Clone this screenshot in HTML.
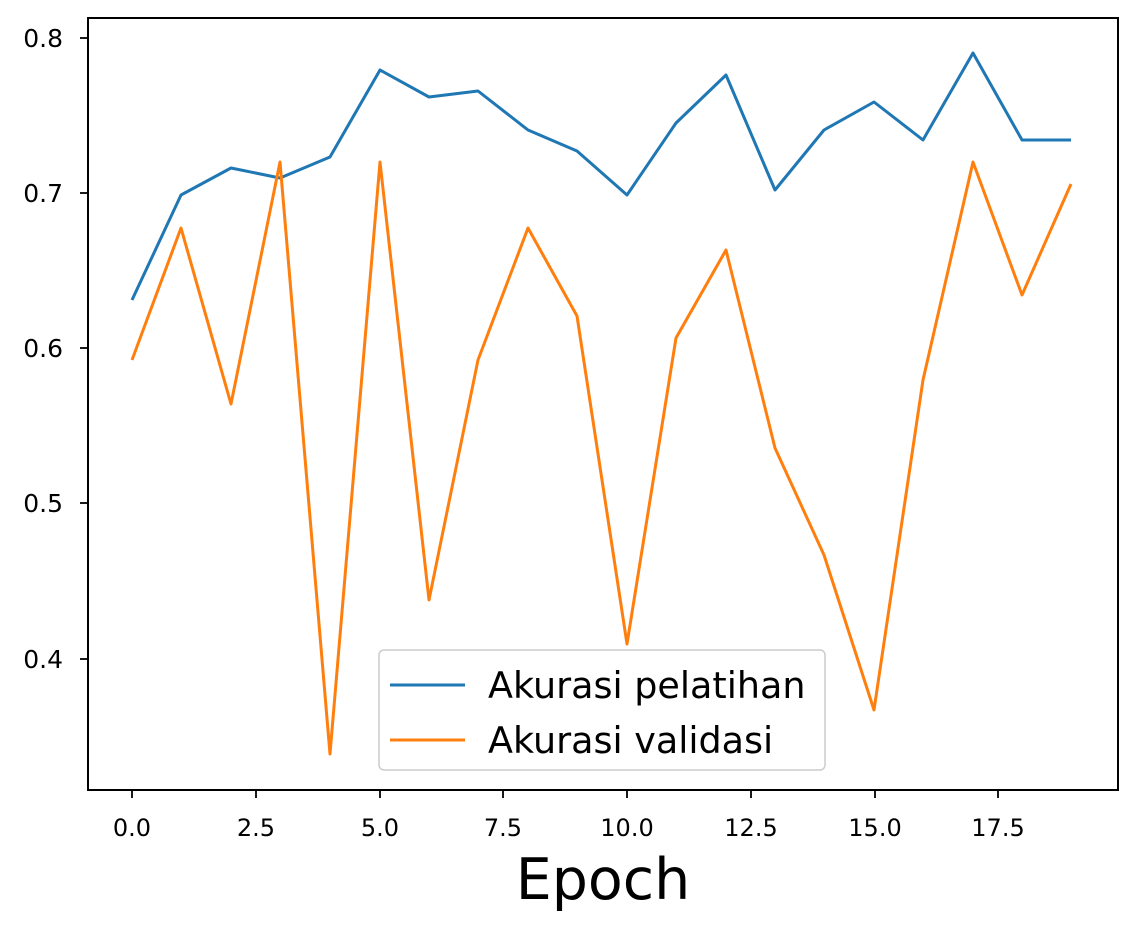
<!DOCTYPE html>
<html><head><meta charset="utf-8"><style>
html,body{margin:0;padding:0;background:#fff;}
svg{display:block;font-family:"DejaVu Sans","Liberation Sans",sans-serif;}
</style></head><body>
<svg width="1136" height="928" viewBox="0 0 1136 928" xmlns="http://www.w3.org/2000/svg">
<rect width="1136" height="928" fill="#fff"/>
<rect x="88" y="18" width="1030" height="772" fill="none" stroke="#000" stroke-width="2"/>
<g stroke="#000" stroke-width="1.8">
<line x1="132" y1="790" x2="132" y2="798"/><line x1="256" y1="790" x2="256" y2="798"/><line x1="380" y1="790" x2="380" y2="798"/><line x1="503" y1="790" x2="503" y2="798"/><line x1="627" y1="790" x2="627" y2="798"/><line x1="751" y1="790" x2="751" y2="798"/><line x1="875" y1="790" x2="875" y2="798"/><line x1="998" y1="790" x2="998" y2="798"/>
<line x1="80" y1="38" x2="88" y2="38"/><line x1="80" y1="193" x2="88" y2="193"/><line x1="80" y1="348" x2="88" y2="348"/><line x1="80" y1="503" x2="88" y2="503"/><line x1="80" y1="659" x2="88" y2="659"/>
</g>
<g font-size="24" fill="#000" text-anchor="middle">
<text x="132" y="836">0.0</text><text x="256" y="836">2.5</text><text x="380" y="836">5.0</text><text x="503" y="836">7.5</text><text x="627" y="836">10.0</text><text x="751" y="836">12.5</text><text x="875" y="836">15.0</text><text x="998" y="836">17.5</text>
</g>
<g font-size="25" fill="#000" text-anchor="end">
<text x="63" y="47">0.8</text><text x="63" y="202">0.7</text><text x="63" y="357">0.6</text><text x="63" y="512">0.5</text><text x="63" y="668">0.4</text>
</g>
<text x="603" y="899" font-size="57" text-anchor="middle" fill="#000">Epoch</text>
<polyline fill="none" stroke="#1f77b4" stroke-width="3" stroke-linejoin="round" points="132,300 181,195 231,168 280,178 330,157 380,70 429,97 478,91 528,130 577,151 627,195 676,123 726,75 775,190 824,130 874,102 923,140 973,53 1022,140 1071,140"/>
<polyline fill="none" stroke="#ff7f0e" stroke-width="3" stroke-linejoin="round" points="132,360 181,228 231,404 280,162 330,754 380,162 429,600 478,360 528,228 577,316 627,644 676,338 726,250 775,448 824,555 874,710 923,380 973,162 1022,295 1071,184"/>
<rect x="379" y="650" width="446" height="120" rx="5" fill="#fff" fill-opacity="0.85" stroke="#ccc" stroke-width="1.5"/>
<line x1="390" y1="685" x2="465" y2="685" stroke="#1f77b4" stroke-width="3"/>
<line x1="390" y1="740" x2="465" y2="740" stroke="#ff7f0e" stroke-width="3"/>
<text x="488" y="698" font-size="36.5" fill="#000">Akurasi pelatihan</text>
<text x="488" y="753" font-size="36.5" fill="#000">Akurasi validasi</text>
</svg>
</body></html>
